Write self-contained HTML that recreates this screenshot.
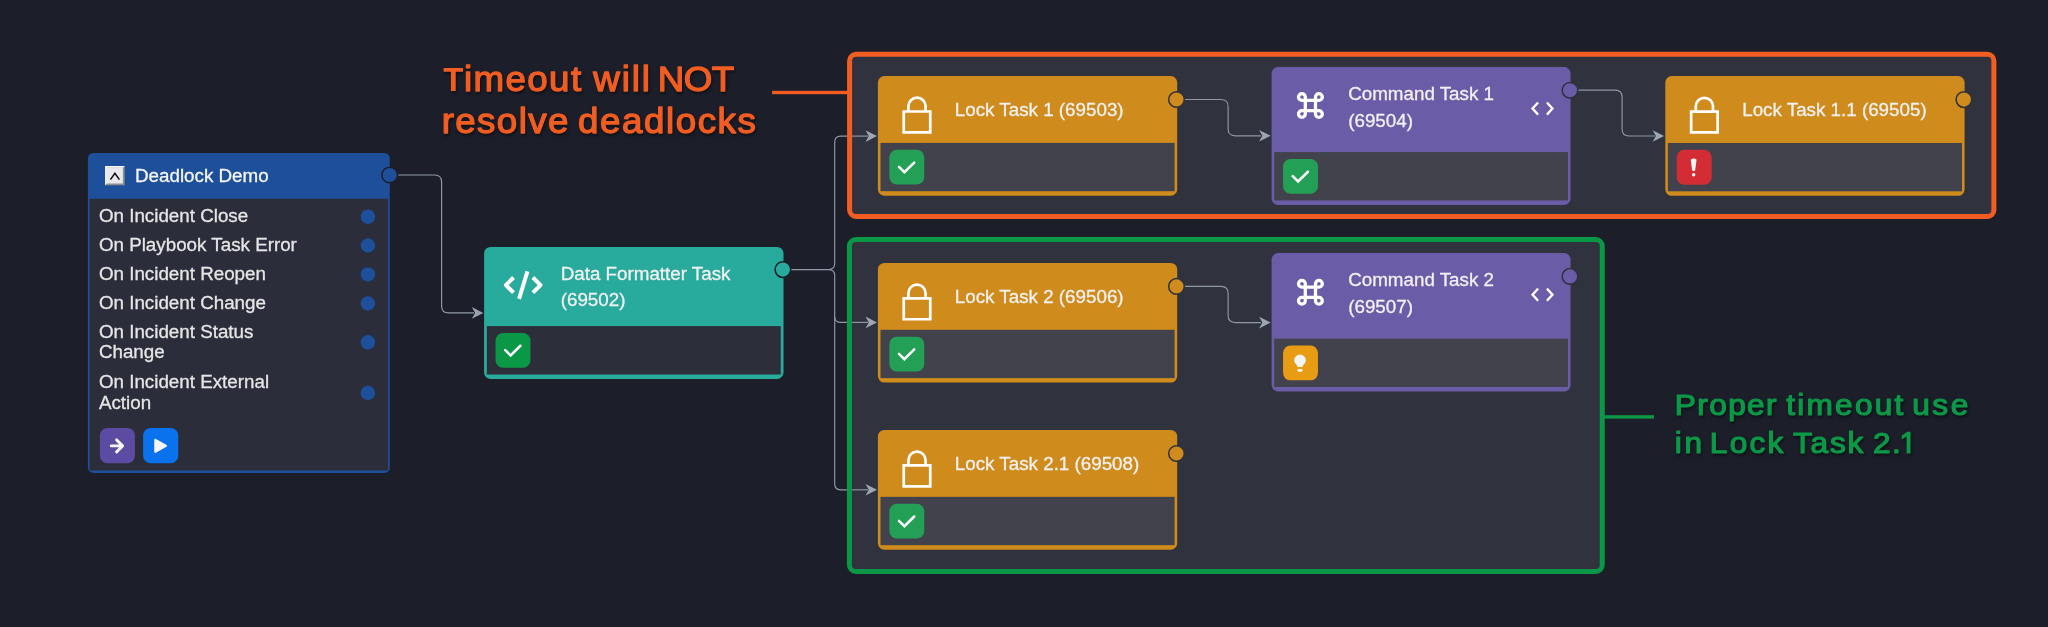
<!DOCTYPE html>
<html>
<head>
<meta charset="utf-8">
<title>Deadlock Demo</title>
<style>
html,body{margin:0;padding:0;width:2048px;height:627px;overflow:hidden;background:#1c1f2a}
svg{position:absolute;left:0;top:0;display:block;will-change:transform}
text{font-family:"Liberation Sans",sans-serif;font-size:18.8px;white-space:pre}
</style>
</head>
<body>
<svg width="2048" height="627" viewBox="0 0 2048 627">
<rect width="2048" height="627" fill="#1c1f2a"/>
<rect x="849.6" y="54.2" width="1144.300" height="162.400" rx="5" fill="#30333d"/>
<rect x="849.4" y="239.500" width="752.900" height="332" rx="5" fill="#30333d"/>
<path d="M397 175 L434.6 175 Q441.6 175 441.6 182 L441.6 305.9 Q441.6 312.9 448.6 312.9 L474 312.9" stroke="#909aa6" stroke-width="1.15" fill="none"/>
<path d="M483.3 312.9 l-11.5 -5.800 l3.300 5.800 l-3.300 5.800 Z" fill="#98a2ae"/>
<path d="M790 269.6 L828.7 269.6 Q834.7 269.6 834.7 263.6 L834.7 142.1 Q834.7 136.1 840.7 136.1 L849.5 136.1" stroke="#909aa6" stroke-width="1.15" fill="none"/>
<path d="M828.7 269.6 L828.7 269.6 Q834.7 269.6 834.7 275.6 L834.7 483.8 Q834.7 489.8 840.7 489.8 L849.5 489.8" stroke="#909aa6" stroke-width="1.15" fill="none"/>
<path d="M834.7 316.4 L834.7 316.4 Q834.7 322.4 840.7 322.4 L849.5 322.4" stroke="#909aa6" stroke-width="1.15" fill="none"/>
<path d="M849.5 136.1 L868 136.1" stroke="#8e98a3" stroke-width="1.15" fill="none"/>
<path d="M877 136.1 l-11.5 -5.800 l3.300 5.800 l-3.300 5.800 Z" fill="#9da7b2"/>
<path d="M849.5 322.4 L868 322.4" stroke="#8e98a3" stroke-width="1.15" fill="none"/>
<path d="M877 322.4 l-11.5 -5.800 l3.300 5.800 l-3.300 5.800 Z" fill="#9da7b2"/>
<path d="M849.5 489.8 L868 489.8" stroke="#8e98a3" stroke-width="1.15" fill="none"/>
<path d="M877 489.8 l-11.5 -5.800 l3.300 5.800 l-3.300 5.800 Z" fill="#9da7b2"/>
<path d="M1183 99.5 L1221.1 99.5 Q1228.1 99.5 1228.1 106.5 L1228.1 128.8 Q1228.1 135.8 1235.1 135.8 L1261 135.8" stroke="#8e98a3" stroke-width="1.15" fill="none"/>
<path d="M1270.6 135.8 l-11.5 -5.800 l3.300 5.800 l-3.300 5.800 Z" fill="#9da7b2"/>
<path d="M1577 90.1 L1615.1 90.1 Q1622.1 90.1 1622.1 97.1 L1622.1 129 Q1622.1 136 1629.1 136 L1655 136" stroke="#8e98a3" stroke-width="1.15" fill="none"/>
<path d="M1664.1 136 l-11.5 -5.800 l3.300 5.800 l-3.300 5.800 Z" fill="#9da7b2"/>
<path d="M1183 286.4 L1221.1 286.4 Q1228.1 286.4 1228.1 293.4 L1228.1 315.6 Q1228.1 322.6 1235.1 322.6 L1261 322.6" stroke="#8e98a3" stroke-width="1.15" fill="none"/>
<path d="M1270.6 322.6 l-11.5 -5.800 l3.300 5.800 l-3.300 5.800 Z" fill="#9da7b2"/>
<rect x="849.6" y="54.250" width="1144.300" height="162.250" rx="6.500" fill="none" stroke="#f15d22" stroke-width="5"/>
<rect x="849.4" y="239.500" width="752.850" height="332" rx="6.500" fill="none" stroke="#0a9746" stroke-width="5"/>
<rect x="772.1" y="90.800" width="75.500" height="3.400" fill="#f15d22"/>
<rect x="1604" y="415.200" width="50" height="3.400" fill="#0a9746"/>
<rect x="87.9" y="152.900" width="301.900" height="320" rx="5.500" fill="#1e4f9a"/>
<rect x="89.6" y="198.700" width="298.400" height="271.800" fill="#2b2e3a"/>
<rect x="105.1" y="166" width="19.600" height="19.300" fill="#8d8d8d"/>
<path d="M105.100 166 H124.700 L122.900 167.800 H106.900 V183.500 L105.100 185.300 Z" fill="#f7f7f7"/>
<rect x="106.9" y="167.800" width="16" height="15.700" fill="#e9e9ed"/>
<path d="M110.400 179.600 L114.900 173.300 L119.400 179.600" stroke="#0a0a0a" stroke-width="1.500" fill="none"/>
<text x="135" y="182.200" fill="#f6f6f6" stroke="#f6f6f6" stroke-width="0.300">Deadlock Demo</text>
<text x="98.9" y="222" fill="#e6e6e6" stroke="#e6e6e6" stroke-width="0.300">On Incident Close</text>
<text x="98.9" y="250.9" fill="#e6e6e6" stroke="#e6e6e6" stroke-width="0.300">On Playbook Task Error</text>
<text x="98.9" y="279.8" fill="#e6e6e6" stroke="#e6e6e6" stroke-width="0.300">On Incident Reopen</text>
<text x="98.9" y="308.9" fill="#e6e6e6" stroke="#e6e6e6" stroke-width="0.300">On Incident Change</text>
<text x="98.9" y="337.7" fill="#e6e6e6" stroke="#e6e6e6" stroke-width="0.300">On Incident Status</text>
<text x="98.9" y="357.9" fill="#e6e6e6" stroke="#e6e6e6" stroke-width="0.300">Change</text>
<text x="98.9" y="388.3" fill="#e6e6e6" stroke="#e6e6e6" stroke-width="0.300">On Incident External</text>
<text x="98.9" y="408.7" fill="#e6e6e6" stroke="#e6e6e6" stroke-width="0.300">Action</text>
<circle cx="367.900" cy="216.7" r="7.200" fill="#1e4f9a"/>
<circle cx="367.900" cy="245.5" r="7.200" fill="#1e4f9a"/>
<circle cx="367.900" cy="274.4" r="7.200" fill="#1e4f9a"/>
<circle cx="367.900" cy="303.5" r="7.200" fill="#1e4f9a"/>
<circle cx="367.900" cy="342.3" r="7.200" fill="#1e4f9a"/>
<circle cx="367.900" cy="392.9" r="7.200" fill="#1e4f9a"/>
<rect x="99.9" y="428.100" width="35" height="35.100" rx="7.500" fill="#5b4ba3"/>
<path d="M111.300 445.900 H122.500 M116.600 439.900 L122.600 445.900 L116.600 451.900" stroke="#f6f6f6" stroke-width="2.900" fill="none" stroke-linecap="round" stroke-linejoin="round"/>
<rect x="143.1" y="428.100" width="35.100" height="35.100" rx="7.500" fill="#0b72ee"/>
<path d="M155.400 439.900 L165.800 445.850 L155.400 451.800 Z" fill="#f6f6f6" stroke="#f6f6f6" stroke-width="2.300" stroke-linejoin="round"/>
<circle cx="389.7" cy="175" r="7.85" fill="#1e4f9a" stroke="#1c1f2a" stroke-width="1.500"/>
<rect x="484.1" y="246.9" width="299.4" height="132" rx="6.500" fill="#28ab9c"/>
<rect x="486.85" y="326.1" width="293.9" height="48.4" fill="#2c2f3a"/>
<rect x="495.55" y="332.95" width="34.900" height="34.800" rx="7.500" fill="#0a9746"/>
<path d="M505.2 350.15 L510.6 355.45 L520.4 345.75" stroke="#fff" stroke-width="2.500" fill="none" stroke-linecap="round" stroke-linejoin="miter"/>
<path transform="translate(523.2 285.1)" d="M-9.700 -7.600 L-17.300 0 L-9.700 7.600 M9.700 -7.600 L17.300 0 L9.700 7.600 M4.250 -13.700 L-4.150 13.700" stroke="#fff" stroke-width="4" fill="none" stroke-linejoin="round"/>
<text x="560.7" y="280" fill="#f1f1f1" stroke="#f1f1f1" stroke-width="0.300">Data Formatter Task</text>
<text x="560.7" y="306.3" fill="#f1f1f1" stroke="#f1f1f1" stroke-width="0.300">(69502)</text>
<circle cx="782.9" cy="269.6" r="7.8" fill="#28ab9c" stroke="#1c1f2a" stroke-width="1.500"/>
<rect x="877.9" y="76" width="299.3" height="119.7" rx="6.500" fill="#cf8b1c"/>
<rect x="880.5" y="142.9" width="294.1" height="48.3" fill="#41424c"/>
<rect x="889.35" y="149.75" width="34.900" height="34.800" rx="7.500" fill="#23a055"/>
<path d="M899 166.95 L904.4 172.25 L914.2 162.55" stroke="#fff" stroke-width="2.500" fill="none" stroke-linecap="round" stroke-linejoin="miter"/>
<path d="M903.75 111.5 H930.25 V132.35 H903.75 Z M908.4 111.5 V106.25 A8.600 8.600 0 0 1 925.6 106.25 V111.5" stroke="#fff" stroke-width="2.700" fill="none"/>
<text x="954.8" y="116.2" fill="#f1f1f1" stroke="#f1f1f1" stroke-width="0.300">Lock Task 1 (69503)</text>
<circle cx="1176.5" cy="99.5" r="7.8" fill="#cf8b1c" stroke="#2e313b" stroke-width="1.500"/>
<rect x="1665.3" y="76.1" width="299.3" height="119.7" rx="6.500" fill="#cf8b1c"/>
<rect x="1667.9" y="143" width="294.1" height="48.3" fill="#41424c"/>
<rect x="1676.75" y="149.85" width="34.900" height="34.800" rx="7.500" fill="#d42c35"/>
<path d="M1690.75 159.85 Q1693.65 157.05 1696.55 159.85 L1695.15 170.45 Q1693.65 171.45 1692.15 170.45 Z" fill="#f4f4f4"/>
<circle cx="1693.65" cy="174.65" r="1.750" fill="#f4f4f4"/>
<path d="M1691.15 111.6 H1717.65 V132.45 H1691.15 Z M1695.8 111.6 V106.35 A8.600 8.600 0 0 1 1713 106.35 V111.6" stroke="#fff" stroke-width="2.700" fill="none"/>
<text x="1742.2" y="116.3" fill="#f1f1f1" stroke="#f1f1f1" stroke-width="0.300">Lock Task 1.1 (69505)</text>
<circle cx="1963.9" cy="99.6" r="7.8" fill="#cf8b1c" stroke="#2e313b" stroke-width="1.500"/>
<rect x="877.9" y="262.9" width="299.3" height="119.7" rx="6.500" fill="#cf8b1c"/>
<rect x="880.5" y="329.8" width="294.1" height="48.3" fill="#41424c"/>
<rect x="889.35" y="336.65" width="34.900" height="34.800" rx="7.500" fill="#23a055"/>
<path d="M899 353.85 L904.4 359.15 L914.2 349.45" stroke="#fff" stroke-width="2.500" fill="none" stroke-linecap="round" stroke-linejoin="miter"/>
<path d="M903.75 298.4 H930.25 V319.25 H903.75 Z M908.4 298.4 V293.15 A8.600 8.600 0 0 1 925.6 293.15 V298.4" stroke="#fff" stroke-width="2.700" fill="none"/>
<text x="954.8" y="303.1" fill="#f1f1f1" stroke="#f1f1f1" stroke-width="0.300">Lock Task 2 (69506)</text>
<circle cx="1176.5" cy="286.4" r="7.8" fill="#cf8b1c" stroke="#2e313b" stroke-width="1.500"/>
<rect x="877.9" y="429.95" width="299.3" height="119.7" rx="6.500" fill="#cf8b1c"/>
<rect x="880.5" y="496.85" width="294.1" height="48.3" fill="#41424c"/>
<rect x="889.35" y="503.7" width="34.900" height="34.800" rx="7.500" fill="#23a055"/>
<path d="M899 520.9 L904.4 526.2 L914.2 516.5" stroke="#fff" stroke-width="2.500" fill="none" stroke-linecap="round" stroke-linejoin="miter"/>
<path d="M903.75 465.45 H930.25 V486.3 H903.75 Z M908.4 465.45 V460.2 A8.600 8.600 0 0 1 925.6 460.2 V465.45" stroke="#fff" stroke-width="2.700" fill="none"/>
<text x="954.8" y="470.15" fill="#f1f1f1" stroke="#f1f1f1" stroke-width="0.300">Lock Task 2.1 (69508)</text>
<circle cx="1176.5" cy="453.45" r="7.8" fill="#cf8b1c" stroke="#2e313b" stroke-width="1.500"/>
<rect x="1271.6" y="67" width="299" height="137.9" rx="6.500" fill="#6b5ca7"/>
<rect x="1274.2" y="152.1" width="293.8" height="48.3" fill="#41424c"/>
<rect x="1283.05" y="158.95" width="34.900" height="34.800" rx="7.500" fill="#23a055"/>
<path d="M1292.7 176.15 L1298.1 181.45 L1307.9 171.75" stroke="#fff" stroke-width="2.500" fill="none" stroke-linecap="round" stroke-linejoin="miter"/>
<path transform="translate(1310.4 105.55)" d="M-5.100 -8.500 A3.400 3.400 0 1 0 -8.500 -5.100 H8.500 A3.400 3.400 0 1 0 5.100 -8.500 V8.500 A3.400 3.400 0 1 0 8.500 5.100 H-8.500 A3.400 3.400 0 1 0 -5.100 8.500 Z" stroke="#fff" stroke-width="3.300" fill="none"/>
<path d="M1538.1 102.5 L1532.5 108.55 L1538.1 114.6 M1546.9 102.5 L1552.5 108.55 L1546.9 114.6" stroke="#fff" stroke-width="2.300" fill="none"/>
<text x="1348.2" y="100.1" fill="#f1f1f1" stroke="#f1f1f1" stroke-width="0.300">Command Task 1</text>
<text x="1348.2" y="126.5" fill="#f1f1f1" stroke="#f1f1f1" stroke-width="0.300">(69504)</text>
<circle cx="1570" cy="90.3" r="7.8" fill="#6b5ca7" stroke="#2e313b" stroke-width="1.500"/>
<rect x="1271.6" y="253.1" width="299" height="138.4" rx="6.500" fill="#6b5ca7"/>
<rect x="1274.2" y="338.7" width="293.8" height="48.3" fill="#41424c"/>
<rect x="1283.05" y="345.55" width="34.900" height="34.800" rx="7.500" fill="#e89c14"/>
<path d="M1297.45 366.95 C1297.45 364.55 1294.25 363.55 1294.25 360.25 A5.800 5.800 0 0 1 1305.85 360.25 C1305.85 363.55 1302.65 364.55 1302.65 366.95 Z" fill="#f4f4f4"/>
<rect x="1297.55" y="368.95" width="5" height="2.700" rx="1.350" fill="#f4f4f4"/>
<path transform="translate(1310.4 292.25)" d="M-5.100 -8.500 A3.400 3.400 0 1 0 -8.500 -5.100 H8.500 A3.400 3.400 0 1 0 5.100 -8.500 V8.500 A3.400 3.400 0 1 0 8.500 5.100 H-8.500 A3.400 3.400 0 1 0 -5.100 8.500 Z" stroke="#fff" stroke-width="3.300" fill="none"/>
<path d="M1538.1 288.6 L1532.5 294.65 L1538.1 300.7 M1546.9 288.6 L1552.5 294.65 L1546.9 300.7" stroke="#fff" stroke-width="2.300" fill="none"/>
<text x="1348.2" y="286.2" fill="#f1f1f1" stroke="#f1f1f1" stroke-width="0.300">Command Task 2</text>
<text x="1348.2" y="312.6" fill="#f1f1f1" stroke="#f1f1f1" stroke-width="0.300">(69507)</text>
<circle cx="1570" cy="276.4" r="7.8" fill="#6b5ca7" stroke="#2e313b" stroke-width="1.500"/>
<g style="filter:drop-shadow(1px 2px 1.500px rgba(0,0,0,0.5))">
<text transform="translate(443.17 91) scale(1 1)" style="font-size:33.0px" font-weight="bold" fill="#f15d22" letter-spacing="0.000">T</text>
<text transform="translate(463.88 91) scale(1.05 1)" style="font-size:35.0px" fill="#f15d22" stroke="#f15d22" stroke-width="1.3" stroke-linejoin="round" letter-spacing="1.328">imeout</text>
<text transform="translate(593.23 91) scale(1.05 1)" style="font-size:35.0px" fill="#f15d22" stroke="#f15d22" stroke-width="1.3" stroke-linejoin="round" letter-spacing="1.782">will</text>
<text transform="translate(657.71 91) scale(1.05 1)" style="font-size:35.0px" fill="#f15d22" stroke="#f15d22" stroke-width="1.3" stroke-linejoin="round" letter-spacing="-0.531">NOT</text>
<text transform="translate(441.71 133.1) scale(1.05 1)" style="font-size:35.0px" fill="#f15d22" stroke="#f15d22" stroke-width="1.3" stroke-linejoin="round" letter-spacing="1.298">resolve</text>
<text transform="translate(578.05 133.1) scale(1.05 1)" style="font-size:35.0px" fill="#f15d22" stroke="#f15d22" stroke-width="1.3" stroke-linejoin="round" letter-spacing="1.476">deadlocks</text>
<text transform="translate(1674.85 415.4) scale(1.09 1)" style="font-size:29.0px" fill="#0c9947" stroke="#0c9947" stroke-width="1.2" stroke-linejoin="round" letter-spacing="1.259">Proper</text>
<text transform="translate(1786.33 415.4) scale(1.09 1)" style="font-size:29.0px" fill="#0c9947" stroke="#0c9947" stroke-width="1.2" stroke-linejoin="round" letter-spacing="2.032">timeout</text>
<text transform="translate(1912.17 415.4) scale(1.09 1)" style="font-size:29.0px" fill="#0c9947" stroke="#0c9947" stroke-width="1.2" stroke-linejoin="round" letter-spacing="2.353">use</text>
<text transform="translate(1674.71 453.4) scale(1.09 1)" style="font-size:29.0px" fill="#0c9947" stroke="#0c9947" stroke-width="1.2" stroke-linejoin="round" letter-spacing="2.524">in</text>
<text transform="translate(1709.85 453.4) scale(1.09 1)" style="font-size:29.0px" fill="#0c9947" stroke="#0c9947" stroke-width="1.2" stroke-linejoin="round" letter-spacing="2.030">Lock</text>
<text transform="translate(1792.94 453.4) scale(1.09 1)" style="font-size:29.0px" fill="#0c9947" stroke="#0c9947" stroke-width="1.2" stroke-linejoin="round" letter-spacing="1.641">Task</text>
<text transform="translate(1872.88 453.4) scale(1.09 1)" style="font-size:29.0px" fill="#0c9947" stroke="#0c9947" stroke-width="1.2" stroke-linejoin="round" letter-spacing="0.000">2</text>
<text transform="translate(1892.07 453.4) scale(1.09 1)" style="font-size:29.0px" fill="#0c9947" stroke="#0c9947" stroke-width="1.2" stroke-linejoin="round" letter-spacing="0.000">.</text>
<path d="M1910.500 431.700 V453.400 H1906.600 V436.300 L1901.750 439.600 V435.700 L1907.300 431.700 Z" fill="#0c9947"/>
</g>
</svg>
</body>
</html>
